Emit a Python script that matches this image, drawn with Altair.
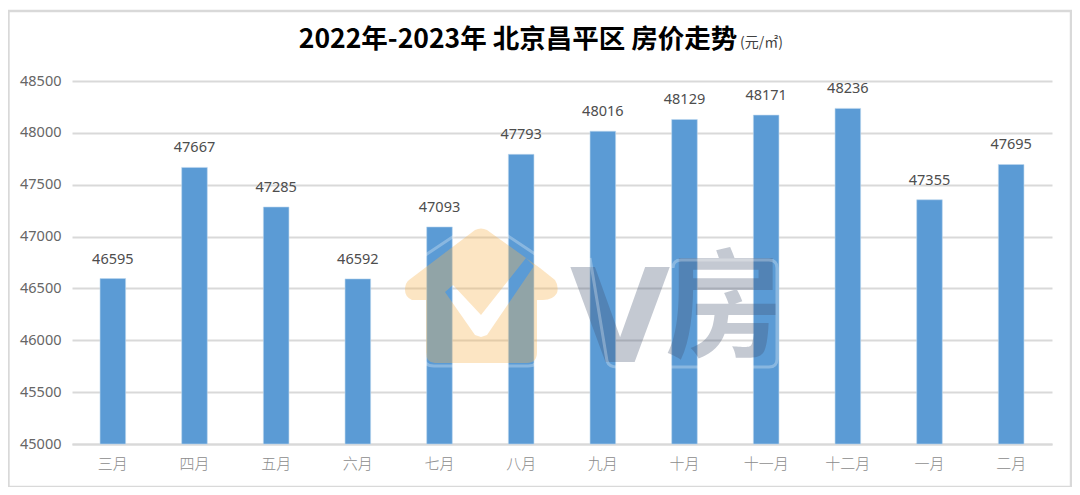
import altair as alt
import pandas as pd

months = ["三月", "四月", "五月", "六月", "七月", "八月", "九月", "十月", "十一月", "十二月", "一月", "二月"]
prices = [46595, 47667, 47285, 46592, 47093, 47793, 48016, 48129, 48171, 48236, 47355, 47695]
y_ticks = [45000, 45500, 46000, 46500, 47000, 47500, 48000, 48500]
y_floor = 45000

title_main = "2022年-2023年 北京昌平区 房价走势"
title_unit = "(元/㎡)"

HOUSE = ("M-6,-70 Q0,-73 6,-70 L59,-32 L74,-20 Q78,-14 76,-7 Q72,0 62,0 L56,0 L56,52 Q56,63 46,63 "
         "L-46,63 Q-55,63 -55,52 L-55,0 L-69,0 Q-76,-3 -76,-10 Q-76,-17 -72,-20 Z "
         "M-36,-8 L-6,35 L0,37 L6,35 L53,-34 L45,-42 L0,15 L-28,-15 Z")
HOUSE_LINE = "M-60,-42 L-3,-80 Q0,-82 3,-80 L60,-42 M-58,55 Q-58,66 -47,66 L47,66 Q58,66 58,55"
BOX_LINE = ("M-135,-55 L-118,48 Q-116,54 -108,54 L44,54 Q52,54 52,46 L52,-45 Q52,-53 44,-53 "
            "L-44,-53 Q-52,-53 -52,-45")

CJK = "Noto Sans CJK SC"
GRID = "#D9D9D9"

df = pd.DataFrame({"month": months, "price": prices, "floor": [y_floor] * len(months)})
base = alt.Chart(df)

x = alt.X("month:N", sort=months, title=None,
          scale=alt.Scale(paddingInner=0, paddingOuter=0),
          axis=alt.Axis(labelAngle=0, labelFont=CJK, labelFontSize=15, labelFontWeight=300,
                        labelColor="#8C8C8C", labelPadding=12, ticks=False,
                        domainColor=GRID, domainWidth=2, grid=False))
y = alt.Y("price:Q", title=None,
          scale=alt.Scale(domain=[45000, 48500], nice=False, zero=False),
          axis=alt.Axis(values=y_ticks, labelFont="Noto Sans", labelFontSize=14.5,
                        labelColor="#666666", labelPadding=11, ticks=False, domain=False,
                        gridColor=GRID, gridWidth=2, format="d"))

bars = base.mark_bar(size=25.6, color="#5B9BD5", stroke="#BDD7EE", strokeWidth=0.6).encode(
    x=x, y=y, y2=alt.Y2("floor:Q"))
labels = base.mark_text(baseline="middle", dy=-19, font="Noto Sans", fontSize=14.5, color="#4D4D4D").encode(
    x=alt.X("month:N", sort=months), y=alt.Y("price:Q"), text=alt.Text("price:Q", format="d"))

frame = alt.Chart(pd.DataFrame({"a": [0]})).mark_rect(
    fillOpacity=0, stroke=GRID, strokeWidth=2.4).encode(
    x=alt.value(-63.5), x2=alt.value(999), y=alt.value(-70), y2=alt.value(406))


def text_mark(txt, px, py, font=CJK, **kw):
    return alt.Chart(pd.DataFrame({"t": [txt]})).mark_text(font=font, **kw).encode(
        x=alt.value(px), y=alt.value(py), text="t:N")


def shape_mark(path, px, py, **kw):
    return alt.Chart(pd.DataFrame({"t": [0]})).mark_point(shape=path, size=4, **kw).encode(
        x=alt.value(px), y=alt.value(py))


title_a = text_mark(title_main, 446, -41, fontSize=26.5, fontWeight="bold", color="#000000", align="center", baseline="middle")
title_b = text_mark(title_unit, 668, -38, fontSize=14, color="#404040", align="left", baseline="middle")

house = shape_mark(HOUSE, 409, 219, filled=True, color="#F6B554", opacity=0.35, strokeWidth=0)
house_line = shape_mark(HOUSE_LINE, 409, 219, filled=False, color="#FFFFFF", opacity=0.28, strokeWidth=3)
v_text = text_mark("V", 548, 281, font="DejaVu Sans", fontSize=130, fontWeight="bold", color="#3E4E6C", opacity=0.3, align="center", baseline="alphabetic")
fang_text = text_mark("房", 652, 232, fontSize=118, fontWeight="bold", color="#3E4E6C", opacity=0.3, align="center", baseline="middle")
box_line = shape_mark(BOX_LINE, 653, 232, filled=False, color="#FFFFFF", opacity=0.28, strokeWidth=3)

chart = alt.layer(bars, labels, frame, title_a, title_b, house, v_text, fang_text, house_line, box_line).properties(
    width=980, height=363,
    autosize=alt.AutoSizeParams(type="none"),
    padding={"left": 64, "top": 73, "right": 20, "bottom": 43},
    background="#FFFFFF",
).configure_view(stroke=None)

chart.save("out.html", embed_options={"renderer": "svg", "actions": False})
